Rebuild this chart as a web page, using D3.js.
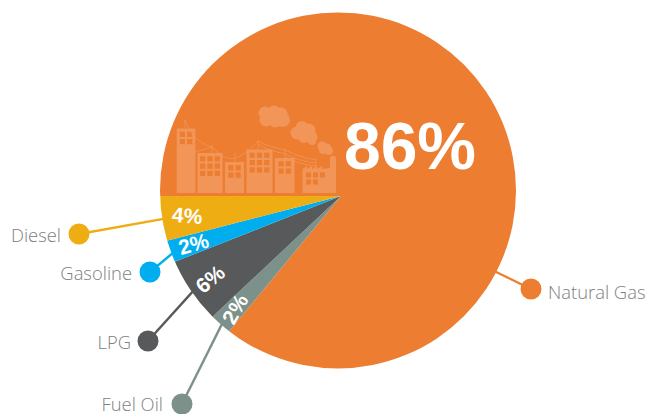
<!DOCTYPE html>
<html>
<head>
<meta charset="utf-8">
<script src="https://cdn.jsdelivr.net/npm/d3@7/dist/d3.min.js"></script>
<style>
html,body{margin:0;padding:0;background:#fff;overflow:hidden}
svg{display:block}
.name{font-family:"Open Sans",sans-serif;font-weight:300;font-size:18.4px;fill:#808080}
.pct{font-family:"Liberation Sans",Arial,sans-serif;font-weight:700;fill:#fff}
</style>
</head>
<body>
<svg id="chart" width="647" height="414"></svg>
<script>
// Fuel shares, clockwise from the nine o'clock position
const fuels = ["Natural Gas", "Fuel Oil", "LPG", "Gasoline", "Diesel"];
const shares = [86, 2, 6, 2, 4];
const colours = ["#ed7d31", "#7c9189", "#58595b", "#00aeef", "#eead13"];

// Annotation layout: callout dot centres and where each name sits beside its dot
const dotX = [531, 182, 148, 150, 79];
const dotY = [289, 404, 341, 272, 234];
const nameX = [548, 163, 131, 132, 61];
const nameY = [299, 410.5, 349, 280, 242];
const nameAnchor = ["start", "end", "end", "end", "end"];
const pctTilt = [0, -60, -40, -16, 4];

// Skyline silhouette: [x, y, width, height, window columns, window rows]
const buildings = [
  [176.7, 128.5, 18.6, 64.5, 2, 2],
  [197.5, 153, 25, 40, 3, 3],
  [225, 162, 19, 31, 2, 2],
  [246.5, 149.5, 26, 43.5, 3, 3],
  [275, 158, 19.5, 35, 2, 2]
];
const smoke = [
  [265, 113, 6.5], [274, 112, 6.5], [281, 114, 6.5], [283, 120, 7], [275, 121, 6.5], [266, 120, 6.5],
  [297, 133, 6.5], [302, 127, 6], [309, 130, 6.5], [312, 137, 5.5], [312, 141, 4], [304, 137, 6],
  [322, 146, 4.5], [327, 148, 4.5], [329, 151, 4], [323, 150, 4]
];
const wires = [
  "M185 120 C192 140,205 145,212 147", "M195 152 L212 147", "M212 147 C222 158,230 160,235 158",
  "M235 158 C245 155,252 148,258 141", "M258 141 C270 148,280 148,285 150", "M258 144 C270 152,280 152,285 154",
  "M285 150 C295 155,305 158,316 160", "M285 154 C295 159,305 162,316 163", "M285 157 C295 162,305 165,316 166",
  "M185 120 L185 128", "M212 145 L212 153", "M235 153 L235 162", "M258 140 L258 150", "M285 148 L285 158", "M316 158 L316 168"
];

const svg = d3.select("#chart");
const apex = [341, 196];
const disc = {cx: 338, cy: 190.4, r: 178};

svg.append("defs").append("clipPath").attr("id", "disc")
  .append("circle").attr("cx", disc.cx).attr("cy", disc.cy).attr("r", disc.r);

const pie = d3.pie().sort(null).startAngle(-Math.PI / 2).endAngle(Math.PI * 1.5);
const arcs = pie(shares);
const wedge = d3.arc().innerRadius(0).outerRadius(215);
const labelRing = d3.arc().innerRadius(155).outerRadius(155);
const rimRing = d3.arc().innerRadius(172).outerRadius(172);

// Callout leaders sit under the wedges; the large wedge's leader simply runs towards the apex
const leaders = svg.append("g");
arcs.forEach((a, i) => {
  const c = i === 0 ? [0, 0] : rimRing.centroid(a);
  leaders.append("line")
    .attr("x1", apex[0] + c[0]).attr("y1", apex[1] + c[1])
    .attr("x2", dotX[i]).attr("y2", dotY[i])
    .attr("stroke", colours[i]).attr("stroke-width", 2.4);
  leaders.append("circle").attr("cx", dotX[i]).attr("cy", dotY[i]).attr("r", 10.5).attr("fill", colours[i]);
  svg.append("text").attr("class", "name").attr("x", nameX[i]).attr("y", nameY[i])
    .attr("text-anchor", nameAnchor[i]).text(fuels[i]);
});

svg.append("g").attr("clip-path", "url(#disc)")
  .append("g").attr("transform", `translate(${apex})`)
  .selectAll("path").data(arcs).join("path")
  .attr("d", wedge).attr("fill", (d, i) => colours[i]);

// Skyline drawn inside the natural gas wedge
const city = svg.append("g").attr("fill", "#f29559");
buildings.forEach(([x, y, w, h, cols, rows]) => {
  city.append("rect").attr("x", x).attr("y", y).attr("width", w).attr("height", h);
  const cell = 7.3, size = 5.2, x0 = x + (w - cols * cell + (cell - size)) / 2, y0 = y + 3.2;
  d3.range(cols).forEach(c => d3.range(rows).forEach(r => {
    city.append("rect").attr("x", x0 + c * cell).attr("y", y0 + r * cell)
      .attr("width", size).attr("height", size).attr("fill", colours[0]);
  }));
});
city.append("path").attr("d", "M302.5 193 V169 L307 166 V169 L312 166 V169 L317 166 V169 L322 166 V169 L330 168 V157 Q330 156 332 156 H334 Q336 156 336 158 V193 Z");
[[306, 172.5], [313, 172.5], [320, 172.5], [306, 179.5], [313, 179.5]].forEach(([x, y]) => {
  city.append("rect").attr("x", x).attr("y", y).attr("width", 5).attr("height", 5).attr("fill", colours[0]);
});
city.selectAll("circle").data(smoke).join("circle")
  .attr("cx", d => d[0]).attr("cy", d => d[1]).attr("r", d => d[2]);
svg.append("g").attr("fill", "none").attr("stroke", "#f29559").attr("stroke-width", 0.8)
  .selectAll("path").data(wires).join("path").attr("d", d => d);

// Percentages: the dominant share is set large, the others follow their wedges
svg.append("text").attr("class", "pct").attr("x", 410).attr("y", 169)
  .attr("text-anchor", "middle").attr("font-size", 66).text(shares[0] + "%");
arcs.slice(1).forEach((a, k) => {
  const c = labelRing.centroid(a);
  svg.append("text").attr("class", "pct").attr("font-size", 21)
    .attr("text-anchor", "middle").attr("dominant-baseline", "central")
    .attr("transform", `translate(${apex[0] + c[0]},${apex[1] + c[1]}) rotate(${pctTilt[k + 1]})`)
    .text(shares[k + 1] + "%");
});
</script>
</body>
</html>
